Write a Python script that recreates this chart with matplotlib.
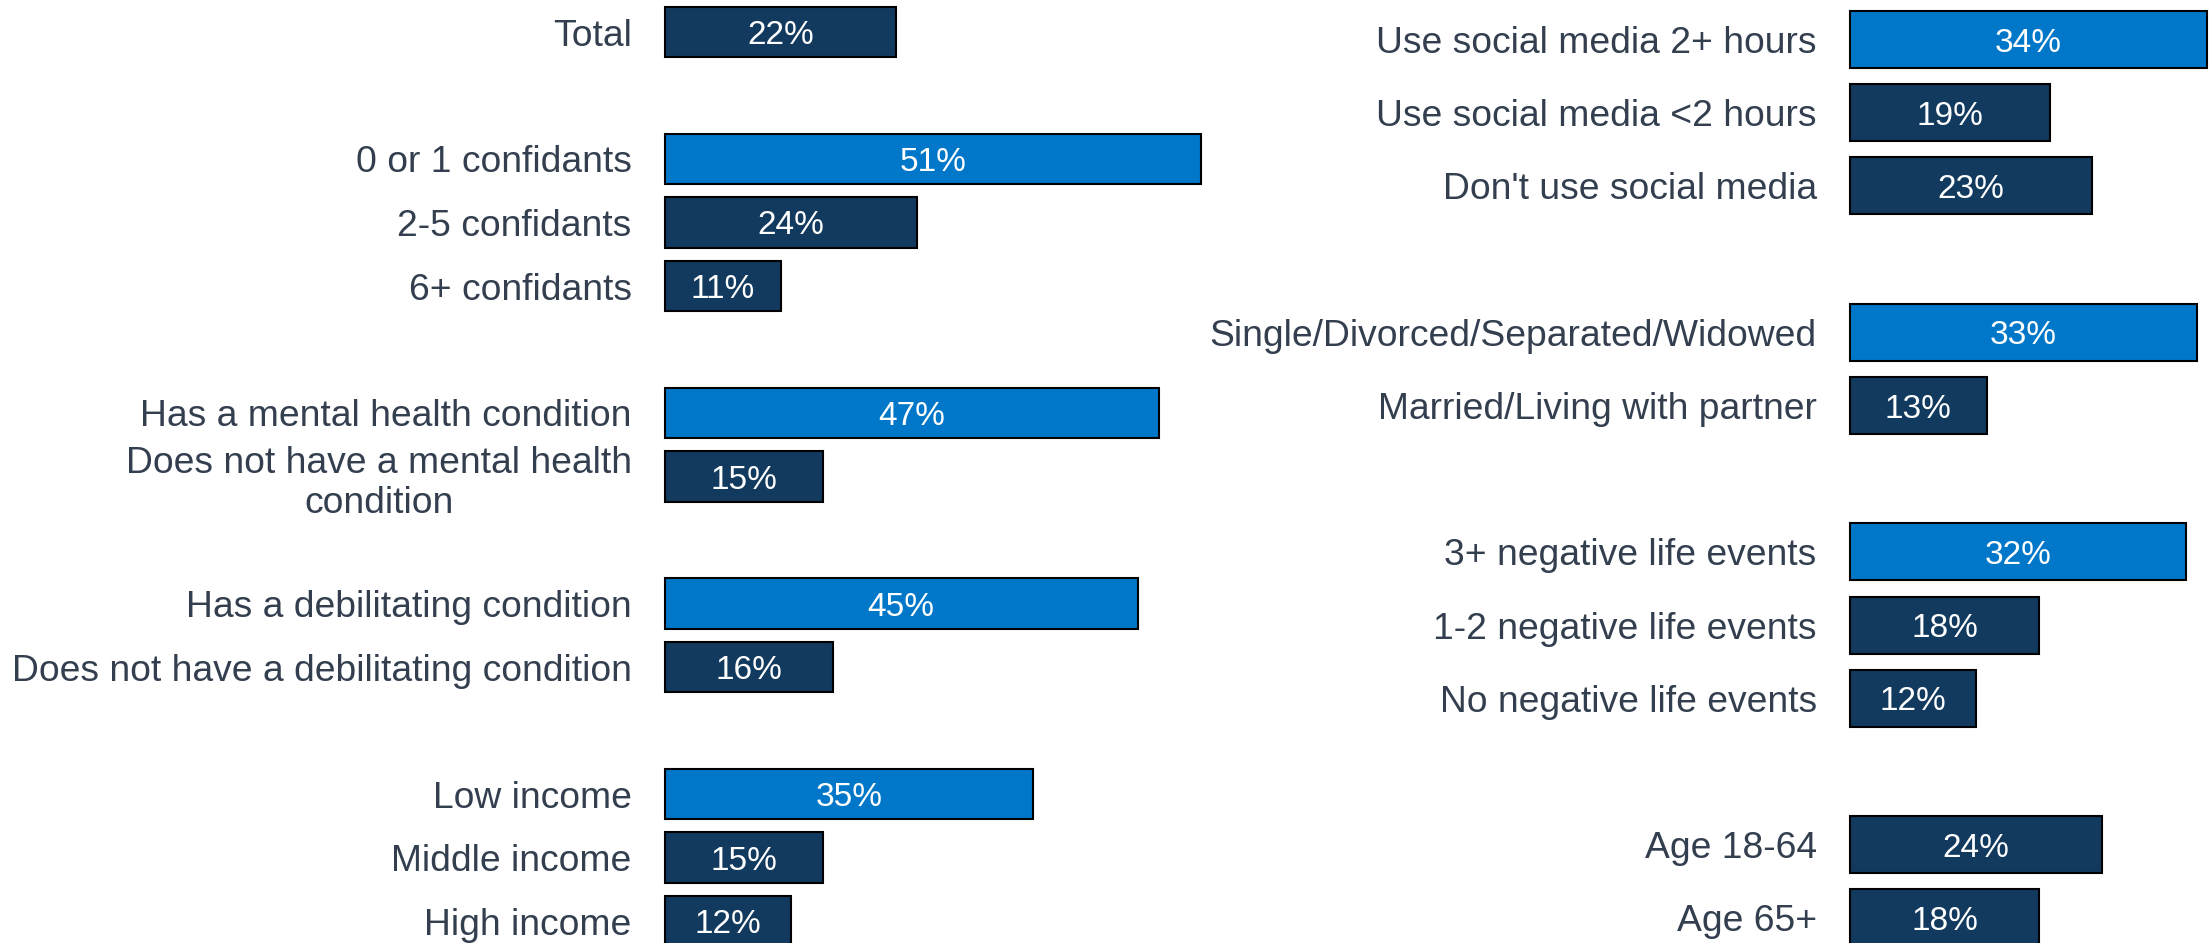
import matplotlib.pyplot as plt

# Share of people reporting loneliness, by group
left_labels = ["Total", "0 or 1 confidants", "2-5 confidants", "6+ confidants",
               "Has a mental health condition",
               "Does not have a mental health\ncondition",
               "Has a debilitating condition",
               "Does not have a debilitating condition",
               "Low income", "Middle income", "High income"]
left_values = [22, 51, 24, 11, 47, 15, 45, 16, 35, 15, 12]
left_slots = [0, 2, 3, 4, 6, 7, 9, 10, 12, 13, 14]
left_highlight = [False, True, False, False, True, False, True, False, True, False, False]

right_labels = ["Use social media 2+ hours", "Use social media <2 hours",
                "Don't use social media",
                "Single/Divorced/Separated/Widowed", "Married/Living with partner",
                "3+ negative life events", "1-2 negative life events",
                "No negative life events",
                "Age 18-64", "Age 65+"]
right_values = [34, 19, 23, 33, 13, 32, 18, 12, 24, 18]
right_slots = [0, 1, 2, 4, 5, 7, 8, 9, 11, 12]
right_highlight = [True, False, False, True, False, True, False, False, False, False]

BRIGHT = "#0077c8"
DARK = "#113a5e"
TEXT = "#333f4f"

plt.rcParams['font.family'] = ['Liberation Sans', 'DejaVu Sans']

W, H = 2210, 943
fig = plt.figure(figsize=(W / 100, H / 100), dpi=100)

px_per_pct = 10.5


def panel(x0, xmax, first_y, step, labels, values, slots, highlight, bar_h):
    ax = fig.add_axes([x0 / W, 0, xmax * px_per_pct / W, 1])
    colors = [BRIGHT if h else DARK for h in highlight]
    ax.barh(slots, values, height=bar_h, color=colors, edgecolor="black",
            linewidth=1.5, clip_on=False)
    for s, v in zip(slots, values):
        ax.text(v / 2, s, f"{v}%", ha="center", va="center_baseline",
                color="white", fontsize=24)
    ax.set_xlim(0, xmax)
    # map slot index to pixel rows: y_px = first_y + step * k
    ax.set_ylim((H - first_y) / step, -first_y / step)
    ax.set_yticks(slots)
    ax.set_yticklabels(labels, fontsize=26.8, color=TEXT)
    for t in ax.get_yticklabels():
        t.set_multialignment("center")
    ax.tick_params(axis="y", length=0, pad=24)
    ax.set_xticks([])
    for sp in ax.spines.values():
        sp.set_visible(False)
    return ax


panel(665, 55, 32, 63.5, left_labels, left_values, left_slots, left_highlight, 0.79)
panel(1850, 34.3, 39.5, 73.2, right_labels, right_values, right_slots, right_highlight, 0.78)

fig.savefig("out.png", dpi=100)
